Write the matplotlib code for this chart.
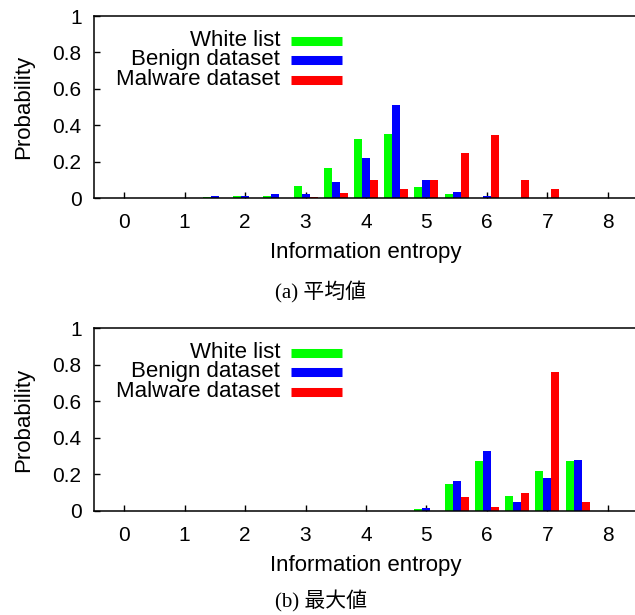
import matplotlib.pyplot as plt
import numpy as np
from matplotlib.lines import Line2D

# entropy bins (width 0.5)
bins = [0.0, 0.5, 1.0, 1.5, 2.0, 2.5, 3.0, 3.5, 4.0, 4.5, 5.0, 5.5, 6.0, 6.5, 7.0, 7.5, 8.0]

# (a) mean entropy
mean_white = [0, 0, 0, 0.006, 0.013, 0.013, 0.067, 0.165, 0.324, 0.35, 0.062, 0.024, 0, 0, 0, 0, 0]
mean_benign = [0, 0, 0, 0.013, 0.013, 0.023, 0.023, 0.089, 0.22, 0.511, 0.1, 0.034, 0.013, 0, 0, 0, 0]
mean_malware = [0, 0, 0, 0, 0, 0, 0.003, 0.025, 0.1, 0.051, 0.1, 0.247, 0.345, 0.1, 0.051, 0, 0]

# (b) max entropy
max_white = [0, 0, 0, 0, 0, 0, 0, 0, 0, 0, 0.011, 0.148, 0.274, 0.082, 0.219, 0.274, 0]
max_benign = [0, 0, 0, 0, 0, 0, 0, 0, 0, 0, 0.015, 0.164, 0.329, 0.049, 0.181, 0.279, 0]
max_malware = [0, 0, 0, 0, 0, 0, 0, 0, 0, 0, 0, 0.077, 0.022, 0.099, 0.762, 0.049, 0]

labels = ["White list", "Benign dataset", "Malware dataset"]
colors = ["#00ff00", "#0000ff", "#ff0000"]
captions = ["(a) 平均値", "(b) 最大値"]

plt.rcParams["font.family"] = ["Liberation Sans", "DejaVu Sans"]
FS = 16

fig = plt.figure(figsize=(6.35, 6.15), dpi=100)
W, H = 635, 615

# axes boxes in pixels: left, top, right, bottom
boxes = [(94, 16, 638, 198), (94, 328, 638, 511)]
series = [(mean_white, mean_benign, mean_malware), (max_white, max_benign, max_malware)]
cap_y = [292, 601]

x = np.array(bins)
w = 0.132

for (l, t, r, b), data, cap, cy in zip(boxes, series, captions, cap_y):
    ax = fig.add_axes([l / W, 1 - b / H, (r - l) / W, (b - t) / H])
    for k, (vals, c) in enumerate(zip(data, colors)):
        ax.bar(x + (k - 1) * w, vals, width=w, color=c, linewidth=0, zorder=2)
    ax.set_xlim(-0.5, 8.5)
    ax.set_ylim(0, 1)
    ax.set_xticks(range(9))
    ax.set_yticks([0, 0.2, 0.4, 0.6, 0.8, 1])
    ax.set_yticklabels(["0", "0.2", "0.4", "0.6", "0.8", "1"])
    ax.tick_params(direction="in", length=4, width=1, labelsize=15,
                   top=False, right=False)
    ax.tick_params(axis="y", pad=9)
    ax.tick_params(axis="x", pad=11)
    for s in ax.spines.values():
        s.set_linewidth(1.1)
    ax.set_xlabel("Information entropy", fontsize=FS, labelpad=7)
    ax.set_ylabel("Probability", fontsize=FS, labelpad=13)

    # legend, gnuplot style: text right-aligned, sample on the right
    for i, (lab, c) in enumerate(zip(labels, colors)):
        yy = t + 24.5 + i * 19.5
        fig.text(280 / W, 1 - yy / H, lab, ha="right", va="center", fontsize=FS)
        fig.add_artist(Line2D([291 / W, 342 / W], [1 - yy / H] * 2,
                              color=c, linewidth=6.5, solid_capstyle="butt"))

    fig.text(0.505, 1 - cy / H, cap, ha="center", va="center", fontsize=15,
             family=["Liberation Serif", "Noto Sans CJK JP"])

fig.savefig("out.png", dpi=100)
